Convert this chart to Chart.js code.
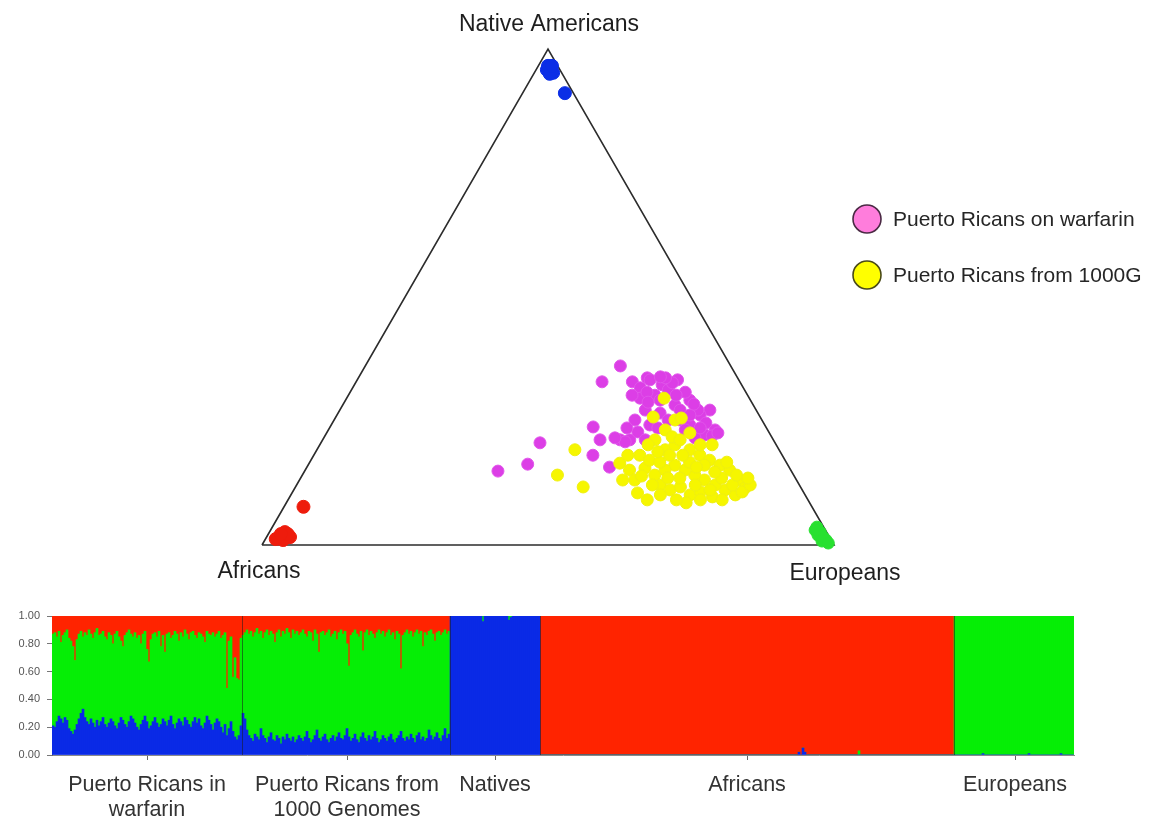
<!DOCTYPE html>
<html>
<head>
<meta charset="utf-8">
<script src="https://cdn.jsdelivr.net/npm/chart.js@4.4.1/dist/chart.umd.min.js"></script>
<style>
  html, body { margin: 0; padding: 0; background: #ffffff; }
  #wrap { position: relative; width: 1150px; height: 817px; overflow: hidden; background: #ffffff; }
  #tern { position: absolute; left: 0; top: 0; width: 1150px; height: 600px; }
  #bars { position: absolute; left: 0; top: 600px; width: 1150px; height: 217px; }
</style>
</head>
<body>
<div id="wrap">
  <canvas id="tern" width="1150" height="600"></canvas>
  <canvas id="bars" width="1150" height="217"></canvas>
</div>
<script>
// ---------- Ternary plot: ancestry proportions [Native, European]; African = remainder ----------
const cornerLabels = ['Native Americans', 'Africans', 'Europeans'];

const ternWarfarin = [
  [0.361,0.446],[0.329,0.430],[0.329,0.483],[0.337,0.505],[0.333,0.560],[0.323,0.538],
  [0.238,0.460],[0.212,0.485],[0.206,0.383],[0.181,0.488],[0.163,0.383],[0.149,0.338],
  [0.157,0.529],[0.212,0.520],[0.272,0.647],[0.317,0.503],[0.302,0.536],[0.313,0.554],
  [0.327,0.554],[0.292,0.602],[0.262,0.635],[0.232,0.676],[0.222,0.663],[0.272,0.534],
  [0.252,0.526],[0.212,0.537],[0.208,0.531],[0.242,0.557],[0.252,0.605],[0.242,0.627],
  [0.272,0.626],[0.220,0.677],[0.266,0.563],[0.296,0.513],[0.308,0.586],[0.282,0.581],
  [0.228,0.543],[0.212,0.564],[0.226,0.684],[0.337,0.537],[0.333,0.512],
  [0.302,0.496],[0.308,0.519],[0.292,0.550],[0.272,0.595],[0.262,0.617],[0.246,0.653],
  [0.216,0.649],[0.236,0.574],[0.252,0.584],[0.216,0.509],[0.288,0.531],[0.302,0.573],
  [0.284,0.613],[0.339,0.527],[0.232,0.624],[0.236,0.648],[0.236,0.520]
];

const tern1000G = [
  [0.296,0.555],[0.258,0.555],[0.192,0.451],[0.141,0.446],[0.117,0.503],[0.131,0.565],
  [0.105,0.604],[0.091,0.628],[0.252,0.596],[0.256,0.605],[0.212,0.581],[0.192,0.609],
  [0.202,0.621],[0.192,0.652],[0.181,0.675],[0.171,0.697],[0.161,0.720],[0.151,0.742],
  [0.131,0.770],[0.115,0.787],[0.101,0.777],[0.111,0.754],[0.121,0.732],[0.131,0.708],
  [0.141,0.686],[0.151,0.664],[0.161,0.641],[0.151,0.629],[0.141,0.616],[0.155,0.592],
  [0.181,0.570],[0.171,0.592],[0.121,0.636],[0.111,0.658],[0.117,0.673],[0.101,0.698],
  [0.107,0.713],[0.097,0.739],[0.135,0.736],[0.121,0.762],[0.107,0.786],[0.161,0.693],
  [0.147,0.718],[0.167,0.664],[0.181,0.622],[0.135,0.663],[0.121,0.697],[0.101,0.646],
  [0.091,0.721],[0.202,0.574],[0.232,0.589],[0.226,0.635],[0.218,0.608],[0.151,0.567],
  [0.165,0.543],[0.131,0.586],[0.121,0.793],[0.202,0.686],[0.085,0.699],
  [0.181,0.549],[0.167,0.612],[0.181,0.645],[0.157,0.681],[0.167,0.729],[0.141,0.759],
  [0.135,0.782],[0.121,0.622],[0.135,0.642],[0.111,0.728],[0.091,0.759],[0.091,0.679],
  [0.139,0.594],[0.202,0.665],[0.212,0.625],[0.188,0.598]
];

const ternNatives = [
  [0.966,0.017],[0.958,0.026],[0.952,0.033],[0.958,0.019],[0.950,0.028],[0.966,0.024],[0.911,0.074]
];

const ternAfricans = [
  [0.016,0.022],[0.026,0.027],[0.016,0.041],[0.010,0.032],[0.012,0.018],[0.022,0.034],
  [0.022,0.022],[0.077,0.034]
];

const ternEuropeans = [
  [0.036,0.952],[0.026,0.963],[0.016,0.973],[0.010,0.981],[0.020,0.962],[0.008,0.975],
  [0.004,0.988],[0.030,0.952]
];

// triangle outline: Africans -> Europeans -> Native Americans -> Africans
const triangleCorners = [[0, 0], [0, 1], [1, 0], [0, 0]];

// ---------- Admixture bars: per-individual [Native] and [African]; European = remainder ----------
const groupLabels = [['Puerto Ricans in', 'warfarin'], ['Puerto Ricans from', '1000 Genomes'], 'Natives', 'Africans', 'Europeans'];
const yTickValues = [0, 0.2, 0.4, 0.6, 0.8, 1.0];

const qWarfarinNative = [
  0.21,0.20,0.24,0.28,0.26,0.23,0.27,0.25,0.19,0.17,
  0.15,0.18,0.22,0.26,0.30,0.33,0.27,0.24,0.22,0.26,
  0.23,0.20,0.25,0.21,0.24,0.27,0.22,0.20,0.23,0.26,
  0.24,0.21,0.19,0.23,0.27,0.25,0.22,0.20,0.24,0.28,
  0.26,0.23,0.20,0.18,0.22,0.25,0.28,0.24,0.19,0.21,
  0.24,0.27,0.23,0.20,0.22,0.26,0.24,0.21,0.25,0.28,
  0.22,0.19,0.23,0.26,0.24,0.21,0.27,0.25,0.22,0.20,
  0.24,0.27,0.23,0.26,0.21,0.19,0.23,0.28,0.25,0.22,
  0.18,0.23,0.26,0.24,0.20,0.16,0.22,0.14,0.19,0.24,
  0.17,0.13,0.11,0.14,0.21
];
const qWarfarinAfrican = [
  0.13,0.12,0.15,0.11,0.19,0.14,0.12,0.10,0.16,0.18,
  0.22,0.32,0.17,0.13,0.11,0.15,0.12,0.14,0.10,0.13,
  0.16,0.12,0.09,0.14,0.13,0.11,0.15,0.17,0.12,0.14,
  0.20,0.13,0.11,0.15,0.18,0.22,0.14,0.12,0.10,0.13,
  0.15,0.12,0.16,0.14,0.20,0.13,0.11,0.24,0.33,0.17,
  0.13,0.12,0.15,0.11,0.22,0.14,0.26,0.13,0.12,0.16,
  0.14,0.11,0.13,0.18,0.12,0.15,0.10,0.13,0.17,0.12,
  0.11,0.14,0.16,0.12,0.13,0.15,0.19,0.11,0.13,0.14,
  0.12,0.15,0.13,0.11,0.16,0.14,0.12,0.52,0.18,0.15,
  0.44,0.30,0.45,0.46,0.16
];

const q1000gNative = [
  0.30,0.26,0.18,0.14,0.12,0.10,0.15,0.13,0.11,0.19,
  0.14,0.12,0.09,0.13,0.16,0.11,0.10,0.14,0.12,0.08,
  0.13,0.11,0.15,0.12,0.10,0.13,0.09,0.11,0.14,0.12,
  0.10,0.13,0.17,0.12,0.09,0.11,0.14,0.18,0.12,0.10,
  0.13,0.15,0.11,0.09,0.12,0.14,0.10,0.13,0.16,0.12,
  0.11,0.14,0.19,0.13,0.10,0.12,0.15,0.11,0.09,0.13,
  0.16,0.12,0.10,0.14,0.11,0.13,0.17,0.12,0.09,0.11,
  0.14,0.12,0.10,0.13,0.15,0.11,0.09,0.12,0.14,0.17,
  0.12,0.10,0.13,0.11,0.15,0.12,0.09,0.14,0.16,0.11,
  0.13,0.10,0.12,0.18,0.14,0.11,0.13,0.16,0.12,0.10,
  0.14,0.19,0.12,0.15
];
const q1000gAfrican = [
  0.14,0.12,0.10,0.13,0.11,0.15,0.12,0.09,0.13,0.11,
  0.16,0.12,0.10,0.14,0.11,0.13,0.19,0.12,0.10,0.15,
  0.11,0.13,0.09,0.12,0.16,0.10,0.13,0.11,0.14,0.12,
  0.10,0.13,0.15,0.11,0.12,0.18,0.10,0.13,0.26,0.12,
  0.11,0.14,0.12,0.10,0.15,0.13,0.11,0.17,0.12,0.10,
  0.13,0.11,0.20,0.36,0.14,0.12,0.10,0.13,0.15,0.11,
  0.25,0.12,0.10,0.14,0.11,0.13,0.16,0.12,0.10,0.13,
  0.11,0.15,0.12,0.10,0.14,0.12,0.17,0.11,0.13,0.38,
  0.14,0.12,0.10,0.13,0.11,0.15,0.12,0.10,0.13,0.11,
  0.22,0.12,0.14,0.11,0.10,0.13,0.18,0.12,0.11,0.14,
  0.12,0.10,0.13,0.11
];

const qNativesNative = [
  1,1,1,1,1,1,1,1,1,1,
  1,1,1,1,1,1,0.96,1,1,1,
  1,1,1,1,1,1,1,1,1,0.97,
  0.99,1,1,1,1,1,1,1,1,1,
  1,1,1,1,1
];
const qNativesAfrican = [
  0,0,0,0,0,0,0,0,0,0,
  0,0,0,0,0,0,0,0,0,0,
  0,0,0,0,0,0,0,0,0,0,
  0,0,0,0,0,0,0,0,0,0,
  0,0,0,0,0
];

const qAfricansNative = [
  0,0,0,0,0,0,0,0,0,0,0,0,0,0,0,0,0,0,0,0,
  0,0,0,0,0,0,0,0,0,0,0,0,0,0,0,0,0,0,0,0,
  0,0,0,0,0,0,0,0,0,0,0,0,0,0,0,0,0,0,0,0,
  0,0,0,0,0,0,0,0,0,0,0,0,0,0,0,0,0,0,0,0,
  0,0,0,0,0,0,0,0,0,0,0,0,0,0,0,0,0,0,0,0,
  0,0,0,0,0,0,0,0,0,0,0,0,0,0,0,0,0,0,0,0,
  0,0,0,0,0,0,0,0,0,0.02,0,0.05,0.02,0,0,0,0,0,0,0,
  0,0,0,0,0,0,0,0,0,0,0,0,0,0,0,0,0,0,0,0,
  0,0,0,0,0,0,0,0,0,0,0,0,0,0,0,0,0,0,0,0,
  0,0,0,0,0,0,0,0,0,0,0,0,0,0,0,0,0,0,0,0,
  0,0,0,0,0,0,0
];
const qAfricansAfrican = [
  1,1,1,1,1,1,1,1,1,1,1,1,1,1,1,1,1,1,1,1,
  1,1,1,1,1,1,1,1,1,1,1,1,1,1,1,1,1,1,1,1,
  1,1,1,1,1,1,1,1,1,1,1,1,1,1,1,1,1,1,1,1,
  1,1,1,1,1,1,1,1,1,1,1,1,1,1,1,1,1,1,1,1,
  1,1,1,1,1,1,1,1,1,1,1,1,1,1,1,1,1,1,1,1,
  1,1,1,1,1,1,1,1,1,1,1,1,1,1,1,1,1,1,1,1,
  1,1,1,1,1,1,1,1,1,0.98,1,0.95,0.98,1,1,1,1,1,1,1,
  1,1,1,1,1,1,1,1,1,1,1,1,1,1,1,1,1,1,1,0.97,
  1,1,1,1,1,1,1,1,1,1,1,1,1,1,1,1,1,1,1,1,
  1,1,1,1,1,1,1,1,1,1,1,1,1,1,1,1,1,1,1,1,
  1,1,1,1,1,1,1
];

const qEuropeansNative = [
  0,0,0,0,0,0,0,0,0,0,0,0,0,0,0.01,0,0,0,0,0,
  0,0,0,0,0,0,0,0,0,0,0,0,0,0,0,0,0,0.01,0,0,
  0,0,0,0,0,0,0,0,0,0,0,0,0,0.01,0,0,0,0,0,0
];
const qEuropeansAfrican = [
  0,0,0,0,0,0,0,0,0,0,0,0,0,0,0,0,0,0,0,0,
  0,0,0,0,0,0,0,0,0,0,0,0,0,0,0,0,0,0,0,0,
  0,0,0,0,0,0,0,0,0,0,0,0,0,0,0,0,0,0,0,0
];

// ---------- shared setup ----------
Chart.defaults.font.family = '"Liberation Sans", Arial, Helvetica, sans-serif';
Chart.defaults.animation = false;

const SQ3_2 = Math.sqrt(3) / 2;
const project = ([n, e]) => ({ x: e + n / 2, y: n * SQ3_2 });

// ---------- ternary chart ----------
const ternaryText = {
  id: 'ternaryText',
  afterDraw(chart) {
    const { ctx, scales: { x, y } } = chart;
    ctx.save();
    ctx.fillStyle = '#1e1e1e';
    ctx.font = '23px "Liberation Sans", Arial, sans-serif';
    ctx.textAlign = 'center';
    ctx.textBaseline = 'middle';
    ctx.fillText(cornerLabels[0], x.getPixelForValue(0.5) + 1, y.getPixelForValue(SQ3_2) - 24);
    ctx.fillText(cornerLabels[1], x.getPixelForValue(0) - 3, y.getPixelForValue(0) + 27);
    ctx.fillText(cornerLabels[2], x.getPixelForValue(1) + 11, y.getPixelForValue(0) + 29);

    // legend for the two Puerto Rican cohorts
    const items = [
      { ds: chart.data.datasets[1], fill: '#ff7ddc', stroke: '#4a2a44', cy: 219 },
      { ds: chart.data.datasets[2], fill: '#ffff00', stroke: '#4a4a18', cy: 275 }
    ];
    ctx.textAlign = 'left';
    ctx.font = '21px "Liberation Sans", Arial, sans-serif';
    items.forEach(it => {
      ctx.beginPath();
      ctx.arc(867, it.cy, 14, 0, Math.PI * 2);
      ctx.fillStyle = it.fill;
      ctx.fill();
      ctx.lineWidth = 1.6;
      ctx.strokeStyle = it.stroke;
      ctx.stroke();
      ctx.fillStyle = '#262626';
      ctx.fillText(it.ds.label, 893, it.cy + 1);
    });
    ctx.restore();
  }
};

new Chart(document.getElementById('tern'), {
  type: 'scatter',
  data: {
    datasets: [
      { label: 'triangle', data: triangleCorners.map(project), showLine: true, borderColor: '#2c2c2c',
        borderWidth: 1.6, pointRadius: 0, fill: false, clip: false, order: 10 },
      { label: 'Puerto Ricans on warfarin', data: ternWarfarin.map(project), backgroundColor: '#dc3ee6',
        borderColor: '#e055ea', borderWidth: 1, pointRadius: 6, clip: false, order: 6 },
      { label: 'Puerto Ricans from 1000G', data: tern1000G.map(project), backgroundColor: '#f6f600',
        borderColor: '#f0f010', borderWidth: 1, pointRadius: 6, clip: false, order: 5 },
      { label: 'Native Americans', data: ternNatives.map(project), backgroundColor: '#0b2ee6',
        borderColor: '#0b2ee6', borderWidth: 1, pointRadius: 6.5, clip: false, order: 4 },
      { label: 'Africans', data: ternAfricans.map(project), backgroundColor: '#ee1c0c',
        borderColor: '#ee1c0c', borderWidth: 1, pointRadius: 6.5, clip: false, order: 4 },
      { label: 'Europeans', data: ternEuropeans.map(project), backgroundColor: '#28e030',
        borderColor: '#28e030', borderWidth: 1, pointRadius: 6, clip: false, order: 4 }
    ]
  },
  options: {
    responsive: false,
    layout: { padding: { left: 262, right: 316, top: 49, bottom: 55 } },
    scales: {
      x: { type: 'linear', min: 0, max: 1, display: false },
      y: { type: 'linear', min: 0, max: SQ3_2, display: false }
    },
    plugins: { legend: { display: false }, tooltip: { enabled: false } }
  },
  plugins: [ternaryText]
});

// ---------- admixture bar chart ----------
const groups = [
  { native: qWarfarinNative, african: qWarfarinAfrican },
  { native: q1000gNative, african: q1000gAfrican },
  { native: qNativesNative, african: qNativesAfrican },
  { native: qAfricansNative, african: qAfricansAfrican },
  { native: qEuropeansNative, african: qEuropeansAfrican }
];

const nativeQ = [], africanQ = [], europeanQ = [], categories = [];
const centerLabel = {}, boundaries = [];
groups.forEach((g, gi) => {
  const start = nativeQ.length;
  if (gi > 0) boundaries.push(start);
  g.native.forEach((n, i) => {
    const a = g.african[i];
    nativeQ.push(n);
    africanQ.push(a);
    europeanQ.push(Math.max(0, +(1 - n - a).toFixed(4)));
    categories.push(String(start + i));
  });
  centerLabel[start + Math.floor(g.native.length / 2)] = groupLabels[gi];
});

const groupSeparators = {
  id: 'groupSeparators',
  afterDatasetsDraw(chart) {
    const { ctx, chartArea, scales: { x } } = chart;
    const half = (x.getPixelForValue(1) - x.getPixelForValue(0)) / 2;
    ctx.save();
    ctx.strokeStyle = 'rgba(30,30,30,0.55)';
    ctx.lineWidth = 1;
    boundaries.forEach(b => {
      const px = Math.round(x.getPixelForValue(b) - half) + 0.5;
      ctx.beginPath();
      ctx.moveTo(px, chartArea.top);
      ctx.lineTo(px, chartArea.bottom);
      ctx.stroke();
    });
    ctx.restore();
  }
};

const barOpts = { barPercentage: 1, categoryPercentage: 1, borderWidth: 0 };

new Chart(document.getElementById('bars'), {
  type: 'bar',
  data: {
    labels: categories,
    datasets: [
      { label: 'Native American', data: nativeQ, backgroundColor: '#0a2ae6', ...barOpts },
      { label: 'European', data: europeanQ, backgroundColor: '#06ee06', ...barOpts },
      { label: 'African', data: africanQ, backgroundColor: '#ff2400', ...barOpts }
    ]
  },
  options: {
    responsive: false,
    layout: { padding: { left: 0, right: 76, top: 16, bottom: 0 } },
    scales: {
      x: {
        stacked: true,
        afterFit: s => { s.height = 62; },
        border: { display: true, color: '#8a8a8a', width: 1 },
        grid: {
          offset: false,
          drawOnChartArea: false,
          drawTicks: true,
          tickLength: 5,
          color: c => (c.tick && c.tick.label ? '#666666' : 'rgba(0,0,0,0)')
        },
        ticks: {
          autoSkip: false,
          maxRotation: 0,
          minRotation: 0,
          padding: 12,
          color: '#333333',
          font: { size: 21.5, lineHeight: 1.18 },
          callback: (v, i) => centerLabel[i] || ''
        }
      },
      y: {
        stacked: true,
        min: 0,
        max: 1,
        afterFit: s => { s.width = 52; },
        afterBuildTicks: s => { s.ticks = yTickValues.map(v => ({ value: v })); },
        border: { display: true, color: '#6a6a6a', width: 1 },
        grid: { drawOnChartArea: false, drawTicks: true, tickLength: 5, color: '#777777' },
        ticks: {
          padding: 7,
          color: '#555555',
          font: { size: 11 },
          callback: v => Number(v).toFixed(2)
        }
      }
    },
    plugins: { legend: { display: false }, tooltip: { enabled: false } }
  },
  plugins: [groupSeparators]
});
</script>
</body>
</html>
